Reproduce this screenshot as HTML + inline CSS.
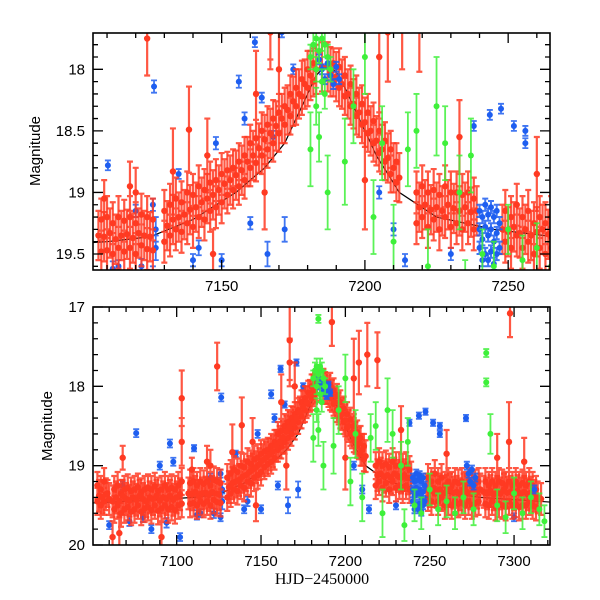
<!DOCTYPE html>
<html><head><meta charset="utf-8"><style>
html,body{margin:0;padding:0;background:#fff;}
svg{display:block;font-family:"Liberation Sans",sans-serif;}
</style></head><body>
<svg id="chart" width="600" height="600" viewBox="0 0 600 600">
<defs>
<clipPath id="clipTop"><rect x="93" y="33" width="457" height="237"/></clipPath>
<clipPath id="clipBot"><rect x="93" y="307" width="457" height="238"/></clipPath>
</defs>
<g id="topData" clip-path="url(#clipTop)"></g>
<g id="botData" clip-path="url(#clipBot)"></g>
<g id="axes"></g>
<text x="40" y="151" transform="rotate(-90 40 151)" text-anchor="middle" font-size="15">Magnitude</text>
<text x="52" y="426" transform="rotate(-90 52 426)" text-anchor="middle" font-size="15">Magnitude</text>
<text x="322" y="584" text-anchor="middle" font-size="16" font-family="Liberation Serif, serif">HJD−2450000</text>
</svg>
<script>
// ---- data: [HJD-2450000, magnitude, error] ----
const modelT=[7050,7080,7110,7125,7140,7155,7165,7172,7178,7183,7187,7191,7196,7204,7212,7225,7245,7280,7322];
const modelM=[19.47,19.44,19.4,19.36,19.22,19.0,18.8,18.6,18.3,18.05,17.95,18.05,18.3,18.7,19.0,19.2,19.3,19.4,19.46];
const redPts=[
[7053,19.25,.17],[7053,19.45,.17],[7055,19.3,.17],[7055,19.5,.17],[7057,19.2,.17],[7057,19.45,.17],[7059,19.35,.17],
[7063,19.3,.17],[7063,19.55,.17],[7065,19.25,.17],[7065,19.5,.17],[7067,19.35,.17],[7067,19.6,.17],[7069,19.3,.17],[7069,19.55,.17],
[7071,19.28,.17],[7071,19.52,.17],[7073,19.32,.17],[7073,19.58,.17],[7075,19.3,.17],[7075,19.55,.17],[7077,19.27,.17],[7077,19.5,.17],
[7079,19.33,.17],[7079,19.58,.17],[7081,19.3,.17],[7081,19.54,.17],[7083,19.28,.17],[7083,19.52,.17],[7085,19.3,.17],[7085,19.56,.17],
[7087,19.26,.17],[7087,19.5,.17],[7089,19.32,.17],[7089,19.57,.17],[7091,19.3,.17],[7091,19.54,.17],[7093,19.25,.17],[7093,19.5,.17],
[7095,19.3,.17],[7095,19.55,.17],[7097,19.28,.17],[7097,19.52,.17],[7099,19.3,.17],[7099,19.56,.17],[7101,19.25,.17],[7101,19.5,.17],
[7103,19.2,.17],[7103,19.48,.17],[7066,19.85,.2],[7068,18.9,.15],[7091,19.9,.2],[7103,18.15,.35],[7103,18.7,.3],[7062,19.9,.2],
[7108,19.22,.17],[7108,19.48,.17],[7110,19.2,.17],[7110,19.47,.17],[7112,19.25,.17],[7112,19.5,.17],[7114,19.2,.17],[7114,19.45,.17],
[7116,19.23,.17],[7116,19.48,.17],[7118,19.2,.17],[7118,19.45,.17],[7120,19.25,.17],[7120,19.5,.17],[7122,19.18,.17],[7122,19.43,.17],
[7124,19.2,.17],[7124,19.46,.17],[7126,19.22,.17],[7126,19.47,.17],[7124,17.75,.3],[7118,18.95,.2],[7120,19.0,.2],[7109,19.05,.15],
[7130,19.15,.17],[7130,19.4,.17],[7132,19.1,.17],[7132,19.35,.17],[7134,19.05,.17],[7134,19.3,.17],[7136,19.08,.17],[7136,19.32,.17],
[7138,19.0,.17],[7138,19.25,.17],[7140,19.02,.17],[7140,19.28,.17],[7142,18.95,.17],[7142,19.2,.17],[7144,18.98,.17],[7144,19.22,.17],
[7146,18.92,.17],[7146,19.15,.17],[7148,18.9,.17],[7148,19.12,.17],[7150,18.85,.17],[7150,19.08,.17],
[7133,18.83,.35],[7138.6,18.49,.35],[7145,18.7,.3],[7147,19.5,.2],
[7152,18.82,.15],[7152,19.02,.15],[7154,18.8,.15],[7154,18.98,.15],[7156,18.75,.15],[7156,18.95,.15],[7158,18.7,.15],[7158,18.9,.15],
[7160,18.6,.15],[7160,18.8,.15],[7162,18.56,.15],[7162,18.76,.15],[7164,18.5,.15],[7164,18.7,.15],[7166,18.45,.15],[7166,18.65,.15],
[7168,18.4,.15],[7168,18.6,.15],[7170,18.35,.15],[7170,18.52,.15],[7172,18.3,.15],[7172,18.45,.15],[7174,18.2,.15],[7174,18.38,.15],
[7176,18.15,.15],[7176,18.3,.15],[7178,18.08,.15],[7178,18.22,.15],[7180,18.0,.15],[7180,18.15,.15],[7182,17.95,.12],[7182,18.1,.12],
[7167,17.42,.5],[7167,17.7,.3],[7162,18.2,.35],[7170,18.0,.3],[7165,19.0,.3],
[7189,17.95,.12],[7189,18.1,.12],[7191,17.98,.15],[7191,18.15,.15],[7193,18.05,.15],[7193,18.22,.15],[7195,18.12,.15],[7195,18.3,.15],
[7197,18.2,.15],[7197,18.38,.15],[7199,18.28,.15],[7199,18.45,.15],[7201,18.35,.15],[7201,18.52,.15],[7203,18.42,.15],[7203,18.6,.15],
[7205,18.5,.15],[7205,18.68,.15],[7207,18.58,.15],[7207,18.75,.15],[7209,18.65,.15],[7209,18.85,.15],[7211,18.75,.15],[7211,18.92,.15],
[7192,17.19,.3],[7208,17.7,.4],[7213,17.6,.4],[7219,17.67,.35],[7200,18.9,.4],[7205,17.9,.5],
[7218,19.0,.17],[7218,19.25,.17],[7220,18.95,.17],[7220,19.2,.17],[7222,19.0,.17],[7222,19.28,.17],[7224,18.98,.17],[7224,19.22,.17],
[7226,19.02,.17],[7226,19.3,.17],[7228,18.95,.17],[7228,19.2,.17],[7230,19.0,.17],[7230,19.28,.17],[7232,19.0,.17],[7232,19.25,.17],
[7234,19.02,.17],[7234,19.3,.17],[7236,19.0,.17],[7236,19.25,.17],[7238,19.05,.17],[7238,19.3,.17],[7233,18.55,.3],
[7249,19.15,.17],[7249,19.4,.17],[7251,19.2,.17],[7251,19.45,.17],[7253,19.1,.17],[7253,19.35,.17],[7255,19.2,.17],[7255,19.45,.17],
[7257,19.15,.17],[7257,19.4,.17],[7259,19.25,.17],[7259,19.5,.17],[7261,19.2,.17],[7261,19.45,.17],[7263,19.25,.17],[7263,19.5,.17],
[7265,19.2,.17],[7265,19.45,.17],[7267,19.22,.17],[7267,19.48,.17],[7269,19.2,.17],[7269,19.45,.17],[7271,19.25,.17],[7271,19.5,.17],
[7273,19.2,.17],[7273,19.45,.17],[7275,19.25,.17],[7275,19.5,.17],[7277,19.22,.17],[7277,19.47,.17],[7279,19.2,.17],[7279,19.45,.17],
[7283,19.2,.17],[7283,19.48,.17],[7285,19.25,.17],[7285,19.5,.17],[7287,19.2,.17],[7287,19.45,.17],[7289,19.25,.17],[7289,19.52,.17],
[7291,19.2,.17],[7291,19.48,.17],[7293,19.22,.17],[7293,19.5,.17],[7295,19.25,.17],[7295,19.52,.17],[7297,19.2,.17],[7297,19.45,.17],
[7299,19.25,.17],[7299,19.5,.17],[7301,19.2,.17],[7301,19.48,.17],[7303,19.25,.17],[7303,19.52,.17],[7305,19.22,.17],[7305,19.5,.17],
[7307,19.25,.17],[7307,19.5,.17],[7309,19.2,.17],[7309,19.45,.17],[7311,19.25,.17],[7311,19.5,.17],[7313,19.3,.17],[7313,19.52,.17],
[7297.6,17.08,.3],[7297,18.7,.5],[7260,18.85,.3],[7290,18.9,.3],[7306,18.95,.3]
];
// extra red observations filling the dense band (err 0.2)
const redFillT=[7054,7056,7058,7060,7062,7064,7066,7068,7070,7072,7074,7076,7078,7080,7082,7084,7086,7088,7090,7092,7094,7096,7098,7100,7102,
7107,7109,7111,7113,7115,7117,7119,7121,7123,7125,7131,7133,7135,7137,7139,7141,7143,7145,7147,7149,7151,7153,7155,7157,7159,7161,7163,7165,7167,7169,7171,7173,7175,7177,7179,7181,7183,7185,7187,7188,7190,7192,7194,7196,7198,7200,7202,7204,7206,7208,7210,7212,
7219,7221,7223,7225,7227,7229,7231,7233,7235,7237,7239,7248,7250,7252,7254,7256,7258,7260,7262,7264,7266,7268,7270,7272,7274,7276,7278,7280,7282,7284,7286,7288,7290,7292,7294,7296,7298,7300,7302,7304,7306,7308,7310,7312,7314,7316];
const redFillM=[19.38,19.4,19.36,19.42,19.45,19.4,19.45,19.38,19.42,19.44,19.4,19.43,19.38,19.42,19.45,19.4,19.42,19.38,19.44,19.4,19.42,19.38,19.43,19.4,19.36,
19.35,19.36,19.33,19.38,19.35,19.34,19.37,19.33,19.35,19.36,19.27,19.22,19.2,19.18,19.14,19.12,19.08,19.05,19.02,18.98,18.93,18.9,18.86,18.82,18.75,18.7,18.64,18.57,18.52,18.46,18.4,18.33,18.26,18.2,18.12,18.05,18.0,17.98,17.98,18.02,18.06,18.12,18.2,18.28,18.35,18.43,18.5,18.58,18.65,18.72,18.8,18.88,
19.12,19.1,19.14,19.12,19.15,19.1,19.13,19.15,19.12,19.16,19.15,19.3,19.32,19.28,19.33,19.3,19.35,19.32,19.3,19.34,19.33,19.36,19.3,19.33,19.35,19.32,19.34,19.3,19.33,19.35,19.32,19.36,19.33,19.35,19.3,19.34,19.33,19.36,19.32,19.35,19.33,19.36,19.34,19.38,19.4,19.42];
const bluePts=[
[7060,19.75,.05],[7068,19.25,.05],[7076,18.59,.05],[7085,19.8,.05],[7090,19.0,.05],[7096,18.72,.05],[7098,18.95,.05],[7102,19.9,.05],
[7110.3,18.78,.04],[7114,19.6,.05],[7120,19.15,.05],[7126.4,18.14,.05],[7126,19.1,.05],[7126,19.65,.05],[7135,18.85,.04],[7140,19.55,.05],
[7148,18.6,.05],[7150,19.55,.05],[7156,18.1,.05],[7158,18.4,.05],[7161.6,17.78,.04],[7164,18.23,.04],[7160,19.25,.05],[7166,19.5,.1],
[7171,17.7,.04],[7175,18.0,.04],[7168,18.55,.05],[7172,19.3,.1],[7243.6,18.37,.04],[7247.5,18.32,.04],[7252,18.46,.04],[7256,18.5,.04],
[7256,18.6,.04],[7238,18.46,.04],[7271.5,18.4,.04],[7210,19.3,.05],[7205,19.0,.05],[7214,19.55,.05],[7230,19.5,.05],[7300,19.65,.05],
[7072,19.7,.06],[7080,19.65,.06],[7094,19.72,.06],[7112,19.62,.06],[7122,19.6,.06],[7127,19.3,.1],[7127,19.45,.1],[7142,19.45,.06]
];
const blueBand=[
[7184,17.92,.04],[7185,18.0,.04],[7186,18.08,.04],[7187,17.95,.04],[7188,18.05,.04],[7189,18.12,.04],[7190,17.98,.04],[7191,18.08,.04],
[7240,19.15,.05],[7240,19.3,.05],[7240,19.45,.05],[7241,19.2,.05],[7241,19.38,.05],[7241,19.55,.05],[7242,19.1,.05],[7242,19.28,.05],
[7242,19.5,.05],[7243,19.18,.05],[7243,19.35,.05],[7243,19.55,.05],[7244,19.12,.05],[7244,19.3,.05],[7244,19.48,.05],[7245,19.2,.05],
[7245,19.4,.05],[7245,19.58,.05],[7246,19.15,.05],[7246,19.33,.05],[7246,19.5,.05],[7247,19.25,.05],[7247,19.45,.05],
[7272,19.0,.05],[7273,19.1,.05],[7274,19.2,.05],[7275,19.05,.05],[7276,19.25,.05],[7277,19.15,.05],[7312,19.3,.05]
];
const greenPts=[
[7181,17.9,.1],[7182,17.8,.1],[7183,17.75,.1],[7183,18.0,.1],[7184,17.15,.05],[7184,17.85,.1],[7185,17.75,.1],[7185,18.1,.1],
[7186,17.8,.1],[7186,18.2,.12],[7187,17.9,.1],[7188,18.0,.1],[7183,18.3,.15],[7184,18.55,.2],[7187,19.0,.3],[7181,18.65,.3],
[7193,18.75,.35],[7196,18.3,.3],[7200,17.9,.3],[7203,19.2,.3],[7206,18.6,.3],[7210,19.4,.3],[7215,18.65,.3],[7218,18.5,.3],
[7225,18.3,.4],[7228,18.6,.3],[7233,19.0,.3],[7237,18.7,.3],[7241,19.5,.2],[7245,19.6,.2],[7250,19.3,.2],[7255,19.55,.2],
[7260,19.45,.2],[7265,19.6,.2],[7270,19.4,.2],[7276,19.55,.2],[7283.5,17.58,.05],[7283.5,17.95,.05],[7286,18.6,.25],[7290,19.5,.2],
[7295,19.65,.2],[7300,19.35,.2],[7305,19.6,.2],[7310,19.4,.2],[7315,19.55,.2],[7318,19.7,.2],[7222,19.6,.3],[7235,19.75,.2]
];
// ---- axes ----
const panels=[
 {g:'topData',x0:93,x1:550,y0:33,y1:270,t0:7105.1,t1:7264.6,m0:17.705,m1:19.63,name:'top'},
 {g:'botData',x0:93,x1:550,y0:307,y1:545,t0:7050.4,t1:7321.3,m0:17,m1:20,name:'bottom'}
];
const topXTicks=[7150,7200,7250], topYTicks=[18,18.5,19,19.5];
const botXTicks=[7100,7150,7200,7250,7300], botYTicks=[17,18,19,20];
const topYLabels=['18','18.5','19','19.5'], botYLabels=['17','18','19','20'];
const NS='http://www.w3.org/2000/svg';
function mk(tag,attrs,parent){const e=document.createElementNS(NS,tag);for(const k in attrs)e.setAttribute(k,attrs[k]);parent.appendChild(e);return e;}
function xs(p,t){return p.x0+(t-p.t0)/(p.t1-p.t0)*(p.x1-p.x0);}
function ys(p,m){return p.y0+(m-p.m0)/(p.m1-p.m0)*(p.y1-p.y0);}
const axes=document.getElementById('axes');
function drawAxes(p,xt,yt,yl,xminor,yminor){
 const r=mk('rect',{x:p.x0,y:p.y0,width:p.x1-p.x0,height:p.y1-p.y0,fill:'none',stroke:'#000','stroke-width':1.6},axes);
 
 
 let d='';
 for(let t=Math.ceil(p.t0/xminor)*xminor;t<=p.t1;t+=xminor){const x=xs(p,t);const L=(Math.abs(t/50-Math.round(t/50))<1e-6)?10:5;d+=`M${x},${p.y1}v${-L}M${x},${p.y0}v${L}`;}
 for(let k=Math.ceil(p.m0/yminor-1e-6);k*yminor<=p.m1+1e-6;k++){const m=k*yminor;const y=ys(p,m);const maj=yt.some(v=>Math.abs(v-m)<1e-6);const L=maj?10:5;d+=`M${p.x0},${y}h${L}M${p.x1},${y}h${-L}`;}
 const tk=mk('path',{d:d,stroke:'#000','stroke-width':1.3,fill:'none'},axes);
 
 
 xt.forEach(t=>{const e=mk('text',{x:xs(p,t),y:p.y1+21,'text-anchor':'middle','font-size':15},axes);e.textContent=String(t);
  
  });
 yt.forEach((m,i)=>{const e=mk('text',{x:p.x0-8,y:ys(p,m)+5,'text-anchor':'end','font-size':15},axes);e.textContent=yl[i];
  
  });
}
drawAxes(panels[0],topXTicks,topYTicks,topYLabels,10,0.1);
drawAxes(panels[1],botXTicks,botYTicks,botYLabels,10,0.2);
function drawSeries(p,pts,col,name,sw,r){
 const g=document.getElementById(p.g);
 const grp=mk('g',{},g);
 
 
 let d='';
 pts.forEach(q=>{const x=xs(p,q[0]),y=ys(p,q[1]),ya=ys(p,q[1]-q[2]),yb=ys(p,q[1]+q[2]);
  d+=`M${x},${ya}V${yb}M${x-3},${ya}h6M${x-3},${yb}h6`;});
 mk('path',{d:d,stroke:col,'stroke-width':sw,fill:'none','stroke-opacity':0.85},grp);
 pts.forEach(q=>{const c=mk('circle',{cx:xs(p,q[0]),cy:ys(p,q[1]),r:r,fill:col},grp);
  
  });
}
const redFill=redFillT.map((t,i)=>[t,redFillM[i],0.2]);
panels.forEach(p=>{
 const g=document.getElementById(p.g);
 let d='';modelT.forEach((t,i)=>{d+=(i?'L':'M')+xs(p,t)+','+ys(p,modelM[i]);});
 const ml=mk('path',{d:d,stroke:'#000','stroke-width':1.2,fill:'none'},g);
 
 
 drawSeries(p,bluePts,'#1e5ef0','blue',1.8,3);
 drawSeries(p,redPts,'#ff3a22','red',2.2,3.2);
 drawSeries(p,redFill,'#ff3a22','red-fill',2.2,3.2);
 drawSeries(p,blueBand,'#1e5ef0','blue-dense',2,3);
 drawSeries(p,greenPts,'#3ef03a','green',1.8,3);
});
</script>
</body></html>
